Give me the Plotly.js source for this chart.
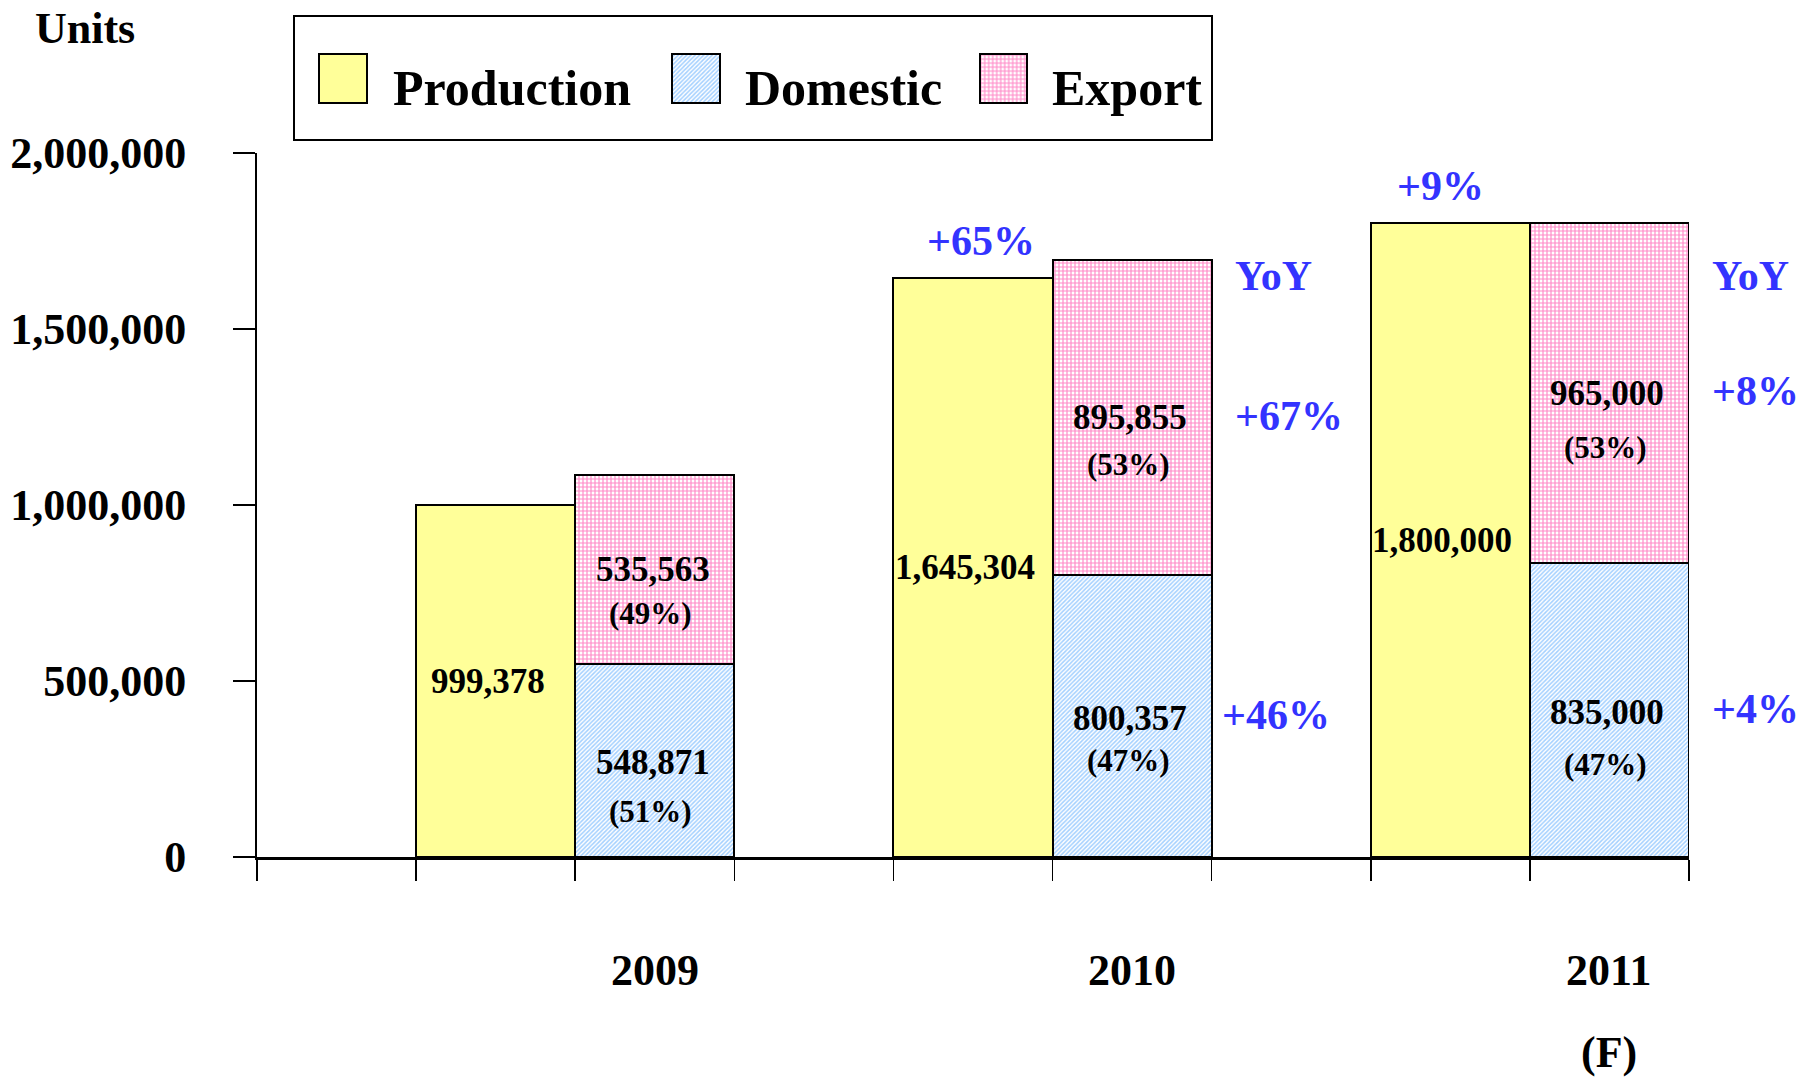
<!DOCTYPE html>
<html>
<head>
<meta charset="utf-8">
<script src="https://cdn.plot.ly/plotly-3.0.1.min.js"></script>
<style>
  html, body { margin: 0; padding: 0; background: #ffffff; }
  #chart { width: 1800px; height: 1081px; }
</style>
</head>
<body>
<div id="chart"></div>
<script>
// ---- data ----
const years = ['2009', '2010', '2011'];
const production = [999378, 1645304, 1800000];
const domestic = [548871, 800357, 835000];
const exportUnits = [535563, 895855, 965000];
const domesticShare = ['(51%)', '(47%)', '(47%)'];
const exportShare = ['(49%)', '(53%)', '(53%)'];
const productionYoY = [null, '+65%', '+9%'];
const domesticYoY = [null, '+46%', '+4%'];
const exportYoY = [null, '+67%', '+8%'];
const yTicks = [0, 500000, 1000000, 1500000, 2000000];
const forecastNote = '(F)';
const yoyLabel = 'YoY';
const unitsLabel = 'Units';
const seriesNames = ['Production', 'Domestic', 'Export'];

// ---- styling ----
const SERIF = 'Liberation Serif, Times New Roman, serif';
const BLUE = '#3333FF';
const YELLOW = '#FFFF99';
const fmt = v => v.toLocaleString('en-US');

const prodX = years.map((_, i) => 3 * i + 1.5);
const stackX = years.map((_, i) => 3 * i + 2.5);
const edgeX = years.map((_, i) => 3 * i + 3);

const outline = { color: '#000000', width: 2 };
const prodMarker = { color: YELLOW, line: outline };
const domMarker = { color: '#ffffff', line: outline,
  pattern: { shape: '/', fgcolor: '#A3D0FF', bgcolor: '#ffffff', size: 3, solidity: 0.5 } };
const expMarker = { color: '#ffffff', line: outline,
  pattern: { shape: '+', fgcolor: '#FF8AC8', bgcolor: '#ffffff', size: 4, solidity: 0.5 } };

const traces = [
  { type: 'bar', name: seriesNames[0], x: prodX, y: production, width: 1, marker: prodMarker, hoverinfo: 'y' },
  { type: 'bar', name: seriesNames[1], x: stackX, y: domestic, width: 1, marker: domMarker, hoverinfo: 'y' },
  { type: 'bar', name: seriesNames[2], x: stackX, y: exportUnits, width: 1, marker: expMarker, hoverinfo: 'y' }
];

// legend keys (one tiny subplot per key)
const keyMarkers = [prodMarker, domMarker, expMarker];
keyMarkers.forEach((m, k) => {
  traces.push({ type: 'bar', x: [0.5], y: [1], width: 1, marker: m,
    xaxis: 'x' + (k + 2), yaxis: 'y' + (k + 2), hoverinfo: 'skip', showlegend: false });
});

const valFont = { family: SERIF, size: 35, color: '#000000', weight: 'bold' };
const pctFont = { family: SERIF, size: 31, color: '#000000', weight: 'bold' };
const blueFont = { family: SERIF, size: 42, color: BLUE, weight: 'bold' };
const bigFont = { family: SERIF, size: 44, color: '#000000', weight: 'bold' };
const legFont = { family: SERIF, size: 50, color: '#000000', weight: 'bold' };

const ann = [];
const prodYoYShift = [0, 8, -10];
const domYoYShift = [21, 8, 21];
const expPctShift = [-44, -47, -54];
const domPctShift = [-51, -44, -54];
const A = (o) => Object.assign({ showarrow: false, xanchor: 'center', yanchor: 'middle' }, o);
years.forEach((yr, i) => {
  const domMid = domestic[i] / 2;
  const expMid = domestic[i] + exportUnits[i] / 2;
  ann.push(A({ x: prodX[i], y: production[i] / 2, text: fmt(production[i]), font: valFont, xshift: -8 }));
  ann.push(A({ x: stackX[i], y: expMid, text: fmt(exportUnits[i]), font: valFont, xshift: -2 }));
  ann.push(A({ x: stackX[i], y: expMid, text: exportShare[i], font: pctFont, xshift: -4, yshift: expPctShift[i] }));
  ann.push(A({ x: stackX[i], y: domMid, text: fmt(domestic[i]), font: valFont, xshift: -2, yshift: -2 }));
  ann.push(A({ x: stackX[i], y: domMid, text: domesticShare[i], font: pctFont, xshift: -4, yshift: domPctShift[i] }));
  if (productionYoY[i]) {
    ann.push(A({ x: prodX[i], y: production[i], text: productionYoY[i], font: blueFont, xshift: prodYoYShift[i], yshift: 37 }));
  }
  if (exportYoY[i]) {
    ann.push(A({ x: edgeX[i], y: 1650000, text: yoyLabel, font: blueFont, xanchor: 'left', xshift: 21 }));
    ann.push(A({ x: edgeX[i], y: expMid, text: exportYoY[i], font: blueFont, xanchor: 'left', xshift: 21, yshift: 2 }));
  }
  if (domesticYoY[i]) {
    ann.push(A({ x: edgeX[i], y: domMid, text: domesticYoY[i], font: blueFont, xanchor: 'left', xshift: domYoYShift[i], yshift: 1 }));
  }
  ann.push(A({ x: stackX[i], xref: 'x', y: -0.132, yref: 'paper', text: yr, font: bigFont }));
});
ann.push(A({ x: stackX[2], xref: 'x', y: -0.228, yref: 'paper', text: forecastNote, font: bigFont }));
ann.push(A({ x: -0.120, xref: 'paper', y: 0.9662, yref: 'paper', text: unitsLabel, font: bigFont }));

// legend labels
const legTextX = [0.0939, 0.3392, 0.5541];
seriesNames.forEach((n, k) => {
  ann.push(A({ x: legTextX[k], xref: 'paper', y: 0.8973, yref: 'paper', text: n, font: legFont, xanchor: 'left' }));
});

const hiddenAxis = (domain) => ({ domain: domain, range: [-0.1, 1.1], visible: false, fixedrange: true, showgrid: false, zeroline: false });
const keyXDomains = [[0.0400, 0.0801], [0.2865, 0.3267], [0.5012, 0.5414]];
const keyYDomain = [0.8741, 0.9427];

const layout = {
  width: 1800, height: 1081,
  margin: { l: 257, r: 111, t: 0, b: 224, pad: 0 },
  paper_bgcolor: '#ffffff', plot_bgcolor: '#ffffff',
  barmode: 'stack', bargap: 0,
  showlegend: false,
  font: { family: SERIF, color: '#000000' },
  xaxis: {
    range: [0, 9], tickvals: [0, 1, 2, 3, 4, 5, 6, 7, 8, 9], showticklabels: false,
    ticks: 'outside', ticklen: 21, tickwidth: 1.5, tickcolor: '#000000',
    showline: true, linewidth: 3, linecolor: '#000000', showgrid: false, zeroline: false, fixedrange: true
  },
  yaxis: {
    domain: [0, 0.82147], range: [0, 2000000], tickvals: yTicks, ticktext: yTicks.map(fmt),
    ticks: 'outside', ticklen: 22, tickwidth: 2, tickcolor: '#000000',
    tickfont: bigFont, ticklabelstandoff: 38,
    showline: true, linewidth: 2, linecolor: '#000000', showgrid: false, zeroline: false, fixedrange: true
  },
  xaxis2: Object.assign(hiddenAxis(keyXDomains[0]), { anchor: 'y2' }),
  yaxis2: Object.assign(hiddenAxis(keyYDomain), { anchor: 'x2' }),
  xaxis3: Object.assign(hiddenAxis(keyXDomains[1]), { anchor: 'y3' }),
  yaxis3: Object.assign(hiddenAxis(keyYDomain), { anchor: 'x3' }),
  xaxis4: Object.assign(hiddenAxis(keyXDomains[2]), { anchor: 'y4' }),
  yaxis4: Object.assign(hiddenAxis(keyYDomain), { anchor: 'x4' }),
  shapes: [
    { type: 'rect', xref: 'paper', yref: 'paper', x0: 0.02584, x1: 0.6669, y0: 0.8366, y1: 0.9813,
      line: { color: '#000000', width: 2 }, fillcolor: 'rgba(0,0,0,0)', layer: 'below' }
  ],
  annotations: ann
};

Plotly.newPlot('chart', traces, layout, { displayModeBar: false, staticPlot: true });
</script>
</body>
</html>
